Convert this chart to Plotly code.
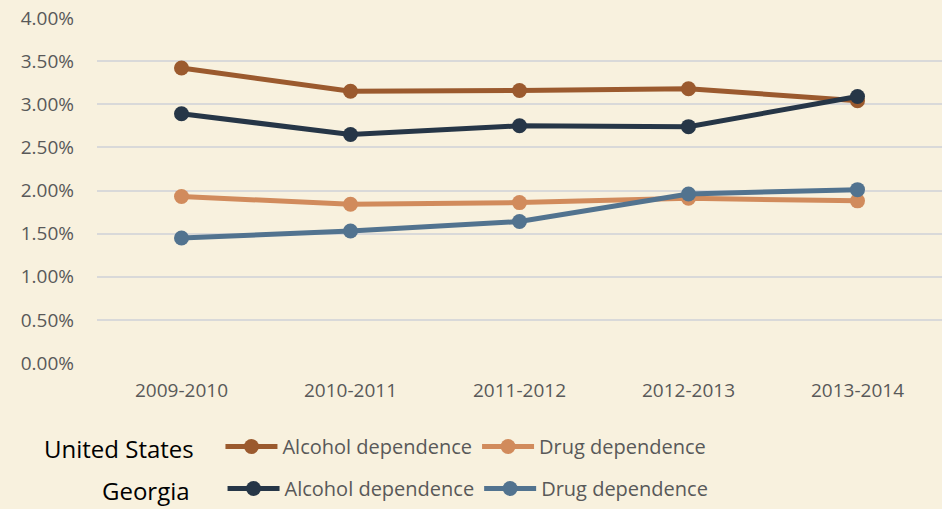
import plotly.graph_objects as go

periods = ["2009-2010", "2010-2011", "2011-2012", "2012-2013", "2013-2014"]
us_alcohol = [3.42, 3.15, 3.16, 3.18, 3.04]
us_drug = [1.93, 1.84, 1.86, 1.91, 1.88]
ga_alcohol = [2.89, 2.65, 2.75, 2.74, 3.09]
ga_drug = [1.45, 1.53, 1.64, 1.96, 2.01]
y_ticks = [0, 0.5, 1.0, 1.5, 2.0, 2.5, 3.0, 3.5, 4.0]

FONT = "Open Sans"
W, H = 942, 509
series = [
    ("Alcohol dependence", us_alcohol, "#9B5A2E", "legend"),
    ("Drug dependence", us_drug, "#D18B5C", "legend"),
    ("Alcohol dependence", ga_alcohol, "#263647", "legend2"),
    ("Drug dependence", ga_drug, "#52738F", "legend2"),
]

fig = go.Figure()
for name, vals, color, lg in series:
    fig.add_trace(go.Scatter(
        x=periods, y=vals, name=name, mode="lines+markers",
        line=dict(color=color, width=5),
        marker=dict(color=color, size=15),
        legend=lg,
    ))

legend_common = dict(
    orientation="h", xanchor="left", yanchor="middle",
    xref="container", yref="container",
    bgcolor="rgba(0,0,0,0)", font=dict(family=FONT, size=20, color="#595959"),
    itemwidth=52, tracegroupgap=0,
)
fig.update_layout(
    width=W, height=H,
    margin=dict(l=97, r=0, t=18, b=146, autoexpand=False),
    paper_bgcolor="#F8F1DE", plot_bgcolor="#F8F1DE",
    font=dict(family=FONT, size=19, color="#595959"),
    xaxis=dict(
        range=[-0.5, 4.5], showgrid=False, showline=False, zeroline=False,
        ticks="", ticklabelstandoff=14, tickfont=dict(size=19, color="#595959"),
    ),
    yaxis=dict(
        range=[0, 4], tickvals=y_ticks,
        ticktext=[f"{v:.2f}%" for v in y_ticks],
        tickmode="array",
        showgrid=True, gridcolor="#D9D9D9", gridwidth=2,
        zeroline=False, showline=False, ticks="",
        ticklabelstandoff=22, tickfont=dict(size=19, color="#595959"),
    ),
    legend=dict(
        x=42 / W, y=1 - 448 / H,
        title=dict(text="United States   ", side="left",
                   font=dict(family=FONT, size=24, color="#000000")),
        **legend_common,
    ),
    legend2=dict(
        x=100 / W, y=1 - 490 / H,
        title=dict(text="Georgia    ", side="left",
                   font=dict(family=FONT, size=24, color="#000000")),
        **legend_common,
    ),
)

fig.write_html("out.html")
